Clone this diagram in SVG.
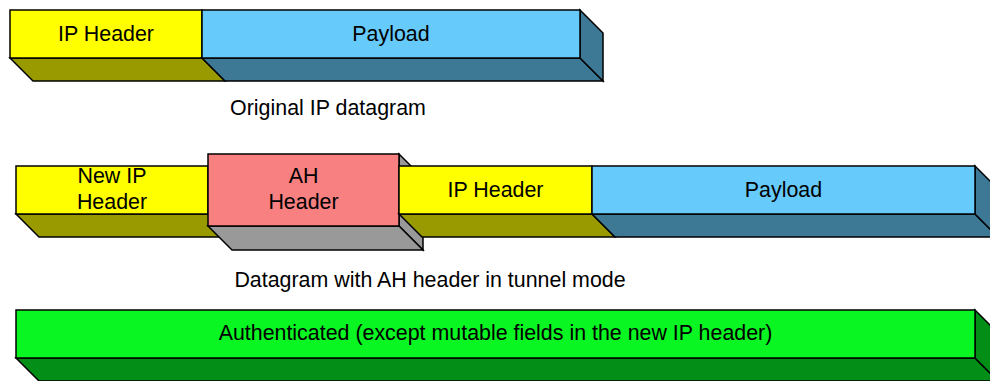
<svg xmlns="http://www.w3.org/2000/svg" width="990" height="381" viewBox="0 0 990 381">
<style>
  .s { stroke: #000; stroke-width: 1.5; stroke-linejoin: miter; }
  .yf { fill: #FFFF00; }
  .yd { fill: #999900; }
  .bf { fill: #66CAFA; }
  .bd { fill: #3D7895; }
  .pf { fill: #F88080; }
  .gd { fill: #999999; }
  .gf { fill: #0AF623; }
  .gdk { fill: #038F17; }
  text { font-family: "Liberation Sans", Arial, sans-serif; font-size: 21.4px; fill: #000; text-anchor: middle; }
</style>
<rect width="990" height="381" fill="#fff"/>

<!-- Row 1: Original IP datagram -->
<g id="orig-ip-header">
  <polygon class="s yd" points="10,58 202,58 225,81 33,81"/>
  <rect class="s yf" x="10" y="10" width="192" height="48"/>
  <text x="106" y="41">IP Header</text>
</g>
<g id="orig-payload">
  <polygon class="s bd" points="202,58 580,58 603,81 225,81"/>
  <polygon class="s bd" points="580,10 603,33 603,81 580,58"/>
  <rect class="s bf" x="202" y="10" width="378" height="48"/>
  <text x="391" y="41">Payload</text>
</g>
<g id="caption-original">
  <text x="328" y="115">Original IP datagram</text>
</g>

<!-- Row 2: Tunnel mode -->
<g id="new-ip-header">
  <polygon class="s yd" points="16,214 208,214 231,237 39,237"/>
  <rect class="s yf" x="16" y="166" width="192" height="48"/>
  <text x="112" y="183">New IP</text>
  <text x="112" y="209">Header</text>
</g>
<g id="ah-header">
  <polygon class="s gd" points="399,154 423,178 423,250 399,226"/>
  <polygon class="s gd" points="208,226 399,226 423,250 232,250"/>
  <rect class="s pf" x="208" y="154" width="191" height="72"/>
  <text x="303.5" y="183">AH</text>
  <text x="303.5" y="209">Header</text>
</g>
<g id="tunnel-ip-header">
  <polygon class="s yd" points="399,214 592,214 615,237 422,237"/>
  <rect class="s yf" x="399" y="166" width="193" height="48"/>
  <text x="495.5" y="197">IP Header</text>
</g>
<g id="tunnel-payload">
  <polygon class="s bd" points="592,214 975,214 998,237 615,237"/>
  <polygon class="s bd" points="975,166 998,189 998,237 975,214"/>
  <rect class="s bf" x="592" y="166" width="383" height="48"/>
  <text x="783.5" y="197">Payload</text>
</g>
<g id="caption-tunnel">
  <text x="430" y="287">Datagram with AH header in tunnel mode</text>
</g>

<!-- Row 3: Authenticated -->
<g id="authenticated">
  <polygon class="s gdk" points="16,358 975,358 998,381 39,381"/>
  <polygon class="s gdk" points="975,310 998,333 998,381 975,358"/>
  <rect class="s gf" x="16" y="310" width="959" height="48"/>
  <text x="495.5" y="340">Authenticated (except mutable fields in the new IP header)</text>
</g>
</svg>
